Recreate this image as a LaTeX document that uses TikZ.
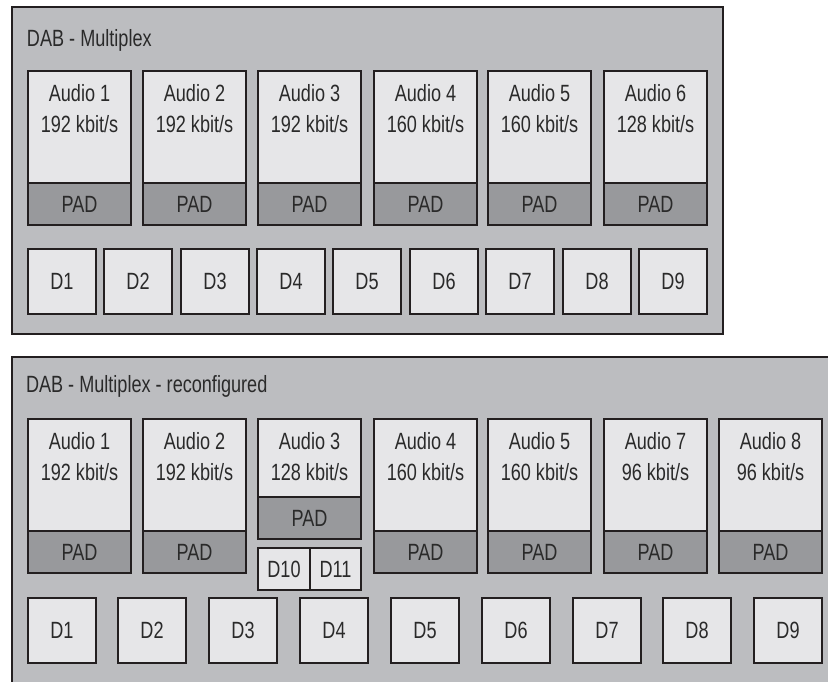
\documentclass[tikz,border=0pt]{standalone}
\usepackage{fontspec}
\setmainfont{Liberation Sans}[FakeStretch=0.77]
\definecolor{panelc}{HTML}{BCBDC0}
\definecolor{boxc}{HTML}{E6E6E8}
\definecolor{padc}{HTML}{98999C}
\definecolor{linec}{HTML}{231F20}
\definecolor{txtc}{HTML}{2A2A2A}
\begin{document}
\begin{tikzpicture}[x=1pt,y=-1pt,
  every node/.style={font=\fontsize{23.5}{30.3}\selectfont, text=txtc, inner sep=0pt, outer sep=0pt},
  panel/.style={draw=linec, line width=2.2pt, fill=panelc},
  abox/.style={rectangle, draw=linec, line width=2.2pt, fill=boxc, anchor=north west, minimum width=103pt},
  padbox/.style={rectangle, draw=linec, line width=2.2pt, fill=padc, anchor=north west, minimum width=103pt, minimum height=42pt},
  dbox/.style={rectangle, draw=linec, line width=2.2pt, fill=boxc, anchor=north west, minimum width=68pt, minimum height=65pt},
  atext/.style={anchor=north, align=center},
  ttl/.style={anchor=base west}]
\useasboundingbox (0,0) rectangle (828,681);
\clip (0,0) rectangle (828,681);
% ---------- top panel ----------
\draw[panel] (12,7) rectangle (723,334);
\node[ttl] (title1) at (27,46.7) {DAB - Multiplex};
\foreach \x/\n/\rate [count=\i] in {28/1/192,143/2/192,258/3/192,374/4/160,488/5/160,604/6/128} {
  \node[abox, minimum height=112pt] (ta\i) at (\x,71) {};
  \node[padbox] (tp\i) at (\x,183) {PAD};
  \node[atext] (tt\i) at (\x+51.5,83.7) {\rule{0pt}{18pt}Audio \n\\\rate\ kbit/s};
}
\foreach \x [count=\i] in {28,104,181,257,333,410,486,563,639} {
  \node[dbox] (td\i) at (\x,249) {D\i};
}
% ---------- bottom panel ----------
\draw[panel] (12,357) rectangle (845,700);
\node[ttl] (title2) at (26,392.7) {DAB - Multiplex - reconfigured};
\foreach \x/\n/\rate [count=\i] in {28/1/192,143/2/192,374/4/160,488/5/160,604/7/96,719/8/96} {
  \node[abox, minimum height=112pt] (ba\i) at (\x,419) {};
  \node[padbox] (bp\i) at (\x,531) {PAD};
  \node[atext] (bt\i) at (\x+51.5,431.7) {\rule{0pt}{18pt}Audio \n\\\rate\ kbit/s};
}
\node[abox, minimum height=78pt] (ba3) at (258,419) {};
\node[padbox] (bp3) at (258,497) {PAD};
\node[atext] (bt3) at (309.5,431.7) {\rule{0pt}{18pt}Audio 3\\128 kbit/s};
\node[dbox, minimum width=52pt, minimum height=42pt] (d10) at (258,548) {D10};
\node[dbox, minimum width=51pt, minimum height=42pt] (d11) at (310,548) {D11};
\foreach \x [count=\i] in {28,118,209,300,391,482,573,663,754} {
  \node[dbox] (bd\i) at (\x,598) {D\i};
}
\end{tikzpicture}
\end{document}
